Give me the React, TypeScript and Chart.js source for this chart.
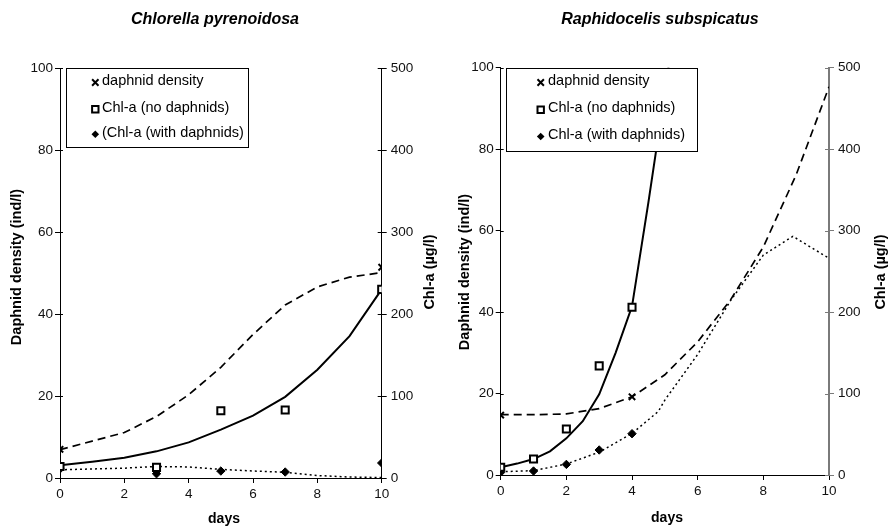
import React, { useEffect, useRef } from 'react';
import { Chart, registerables } from 'chart.js';

Chart.register(...registerables);

const FONT = "'Liberation Sans', Arial, Helvetica, sans-serif";

// ---------- Left panel: Chlorella pyrenoidosa ----------
const leftTitle = 'Chlorella pyrenoidosa';
const leftLegend = ['daphnid density', 'Chl-a (no daphnids)', '(Chl-a (with daphnids)'];
const leftDaphModelDays = [0, 1, 2, 3, 4, 5, 6, 7, 8, 9, 10];
const leftDaphModel = [6.9, 9.0, 11.1, 15.0, 20.3, 27.0, 35.0, 42.2, 46.6, 49.0, 50.1];
const leftChlNoModelDays = [0, 1, 2, 3, 4, 5, 6, 7, 8, 9, 10];
const leftChlNoModel = [15.4, 19.8, 24.6, 32.5, 43.4, 59, 76, 99, 132, 173, 230];
const leftChlWithModelDays = [0, 1, 2, 3, 4, 5, 6, 7, 8, 9, 10];
const leftChlWithModel = [10, 11, 12, 14, 13.5, 10.5, 8.5, 7, 3, 1.2, 0.5];
const leftDaphObsDays = [0, 10];
const leftDaphObs = [7.0, 51.4];
const leftChlObsDays = [0, 3, 5, 7, 10];
const leftChlNoObs = [14, 13, 82, 83, 230];
const leftChlWithObs = [11, 5.2, 8.5, 7.3, 18.3];

// ---------- Right panel: Raphidocelis subspicatus ----------
const rightTitle = 'Raphidocelis subspicatus';
const rightLegend = ['daphnid density', 'Chl-a (no daphnids)', 'Chl-a (with daphnids)'];
const rightDaphModelDays = [0, 1, 2, 3, 4, 5, 6, 7, 8, 9, 10];
const rightDaphModel = [14.8, 14.8, 15.0, 16.3, 19.2, 24.6, 32.7, 43, 56, 73.7, 95.3];
const rightChlNoModelDays = [0, 0.5, 1, 1.5, 2, 2.5, 3, 3.5, 4, 4.5, 5, 5.5];
const rightChlNoModel = [9.5, 14, 19.6, 29, 45, 66, 99, 150, 207, 335, 470, 610];
const rightChlWithModelDays = [0, 1, 2, 3, 4, 4.8, 5, 6, 7, 8, 8.9, 10];
const rightChlWithModel = [4, 5.3, 13.5, 28, 51, 78, 92, 148, 214, 270, 293, 266];
const rightDaphObsDays = [0, 4];
const rightDaphObs = [14.7, 19.2];
const rightChlObsDays = [0, 1, 2, 3, 4];
const rightChlNoObs = [9.5, 19.6, 56.5, 134, 206];
const rightChlWithObs = [3.3, 4.9, 13, 30.7, 50.7];

// ---------- axis labels ----------
const xTitle = 'days';
const yTitle = 'Daphnid density (ind/l)';
const y2Title = 'Chl-a (µg/l)';
const xStep = 2;
const yStep = 20;
const y2Step = 100;

type Layout = {
  top: number;
  leftW: number;
  rightW: number;
  bottomH: number;
  titleX: number;
  yTitleX: number;
  yTitleY: number;
  y2TitleX: number;
  y2TitleY: number;
  xTitleX: number;
  xTitleY: number;
  legendBox: [number, number, number, number];
  legendRows: number[];
  legendMarkerX: number;
  legendTextX: number;
  rightAxisColor: string;
  rightAxisWidth: number;
};

type PanelProps = {
  title: string;
  legend: string[];
  daphModelDays: number[];
  daphModel: number[];
  chlNoModelDays: number[];
  chlNoModel: number[];
  chlWithModelDays: number[];
  chlWithModel: number[];
  daphObsDays: number[];
  daphObs: number[];
  chlObsDays: number[];
  chlNoObs: number[];
  chlWithObs: number[];
  layout: Layout;
};

const toXY = (xs: number[], ys: number[]) => xs.map((x, i) => ({ x, y: ys[i] }));

function drawMarker(ctx: CanvasRenderingContext2D, kind: number, x: number, y: number) {
  ctx.save();
  ctx.strokeStyle = '#000';
  ctx.fillStyle = '#000';
  if (kind === 0) {
    ctx.lineWidth = 2;
    const s = 3.2;
    ctx.beginPath();
    ctx.moveTo(x - s, y - s);
    ctx.lineTo(x + s, y + s);
    ctx.moveTo(x + s, y - s);
    ctx.lineTo(x - s, y + s);
    ctx.stroke();
  } else if (kind === 1) {
    ctx.lineWidth = 2;
    ctx.fillStyle = '#fff';
    ctx.beginPath();
    ctx.rect(x - 3.2, y - 3.2, 6.4, 6.4);
    ctx.fill();
    ctx.stroke();
  } else {
    const s = 3.8;
    ctx.beginPath();
    ctx.moveTo(x, y - s);
    ctx.lineTo(x + s, y);
    ctx.lineTo(x, y + s);
    ctx.lineTo(x - s, y);
    ctx.closePath();
    ctx.fill();
  }
  ctx.restore();
}

function Panel(p: PanelProps) {
  const ref = useRef<HTMLCanvasElement>(null);
  useEffect(() => {
    const L = p.layout;
    const overlay = {
      id: 'overlay',
      afterDraw(chart: any) {
        const ctx: CanvasRenderingContext2D = chart.ctx;
        const area = chart.chartArea;
        const ys = chart.scales.y;
        const y2s = chart.scales.y2;
        ctx.save();
        // inner tick marks (crossing the axes)
        ctx.strokeStyle = '#000';
        ctx.lineWidth = 1;
        ys.ticks.forEach((t: any) => {
          const py = Math.round(ys.getPixelForValue(t.value)) + 0.5;
          ctx.beginPath();
          ctx.moveTo(area.left, py);
          ctx.lineTo(area.left + 3, py);
          ctx.stroke();
        });
        ctx.strokeStyle = L.rightAxisColor;
        y2s.ticks.forEach((t: any) => {
          const py = Math.round(y2s.getPixelForValue(t.value)) + 0.5;
          ctx.beginPath();
          ctx.moveTo(area.right - 4, py);
          ctx.lineTo(area.right, py);
          ctx.stroke();
        });
        // title
        ctx.fillStyle = '#000';
        ctx.font = `italic bold 16px ${FONT}`;
        ctx.textAlign = 'center';
        ctx.textBaseline = 'middle';
        ctx.fillText(p.title, L.titleX, 20);
        // axis titles
        ctx.font = `bold 14px ${FONT}`;
        ctx.fillText(xTitle, L.xTitleX, L.xTitleY);
        ctx.font = `bold 14.5px ${FONT}`;
        ctx.save();
        ctx.translate(L.yTitleX, L.yTitleY);
        ctx.rotate(-Math.PI / 2);
        ctx.fillText(yTitle, 0, 0);
        ctx.restore();
        ctx.save();
        ctx.translate(L.y2TitleX, L.y2TitleY);
        ctx.rotate(-Math.PI / 2);
        ctx.fillText(y2Title, 0, 0);
        ctx.restore();
        // legend box
        const [bx, by, bw, bh] = L.legendBox;
        ctx.fillStyle = '#fff';
        ctx.fillRect(bx, by, bw, bh);
        ctx.strokeStyle = '#000';
        ctx.lineWidth = 1;
        ctx.strokeRect(Math.round(bx) + 0.5, Math.round(by) + 0.5, Math.round(bw), Math.round(bh));
        ctx.font = `14.5px ${FONT}`;
        ctx.textAlign = 'left';
        p.legend.forEach((label, i) => {
          const ry = L.legendRows[i];
          drawMarker(ctx, i, L.legendMarkerX, ry + 1.5);
          ctx.fillStyle = '#000';
          ctx.fillText(label, L.legendTextX, ry);
        });
        ctx.restore();
      },
    };

    const tickFont = { family: FONT, size: 13.5 };
    const chart = new Chart(ref.current as HTMLCanvasElement, {
      type: 'line',
      data: {
        datasets: [
          {
            label: p.legend[0] + ' (model)',
            data: toXY(p.daphModelDays, p.daphModel),
            yAxisID: 'y',
            borderColor: '#000',
            borderWidth: 1.7,
            borderDash: [8, 5],
            pointRadius: 0,
            tension: 0,
            fill: false,
            order: 2,
          },
          {
            label: p.legend[1] + ' (model)',
            data: toXY(p.chlNoModelDays, p.chlNoModel),
            yAxisID: 'y2',
            borderColor: '#000',
            borderWidth: 2,
            pointRadius: 0,
            tension: 0,
            fill: false,
            order: 2,
          },
          {
            label: p.legend[2] + ' (model)',
            data: toXY(p.chlWithModelDays, p.chlWithModel),
            yAxisID: 'y2',
            borderColor: '#000',
            borderWidth: 1.5,
            borderDash: [2, 3],
            pointRadius: 0,
            tension: 0,
            fill: false,
            order: 2,
          },
          {
            label: p.legend[0],
            data: toXY(p.daphObsDays, p.daphObs),
            yAxisID: 'y',
            showLine: false,
            pointStyle: 'crossRot',
            pointRadius: 4.5,
            pointBorderWidth: 2,
            pointBorderColor: '#000',
            pointBackgroundColor: '#000',
            order: 0,
          },
          {
            label: p.legend[1],
            data: toXY(p.chlObsDays, p.chlNoObs),
            yAxisID: 'y2',
            showLine: false,
            pointStyle: 'rect',
            pointRadius: 5,
            pointBorderWidth: 2,
            pointBorderColor: '#000',
            pointBackgroundColor: '#fff',
            order: 0,
          },
          {
            label: p.legend[2],
            data: toXY(p.chlObsDays, p.chlWithObs),
            yAxisID: 'y2',
            showLine: false,
            pointStyle: 'rectRot',
            pointRadius: 4.2,
            pointBorderWidth: 1,
            pointBorderColor: '#000',
            pointBackgroundColor: '#000',
            order: 0,
          },
        ] as any,
      },
      options: {
        responsive: false,
        animation: false,
        layout: { padding: { top: L.top, left: 0, right: 0, bottom: 0 } },
        plugins: {
          legend: { display: false },
          tooltip: { enabled: false },
          title: { display: false },
        },
        scales: {
          x: {
            type: 'linear',
            min: 0,
            max: 10,
            ticks: { stepSize: xStep, color: '#111', font: tickFont, padding: 3 },
            grid: { drawOnChartArea: false, tickLength: 5, tickColor: '#000' },
            border: { color: '#000', width: 1 },
            afterFit: (s: any) => {
              s.height = L.bottomH;
            },
          },
          y: {
            type: 'linear',
            position: 'left',
            min: 0,
            max: 100,
            ticks: { stepSize: yStep, color: '#111', font: tickFont, padding: 2 },
            grid: { drawOnChartArea: false, tickLength: 5, tickColor: '#000' },
            border: { color: '#000', width: 1 },
            afterFit: (s: any) => {
              s.width = L.leftW;
            },
          },
          y2: {
            type: 'linear',
            position: 'right',
            min: 0,
            max: 500,
            ticks: { stepSize: y2Step, color: '#111', font: tickFont, padding: 4 },
            grid: { drawOnChartArea: false, tickLength: 5, tickColor: L.rightAxisColor },
            border: { color: L.rightAxisColor, width: L.rightAxisWidth },
            afterFit: (s: any) => {
              s.width = L.rightW;
            },
          },
        },
      } as any,
      plugins: [overlay],
    });
    return () => chart.destroy();
  }, []);
  return <canvas ref={ref} width={444} height={526} style={{ display: 'block', width: 444, height: 526 }} />;
}

const leftLayout: Layout = {
  top: 68,
  leftW: 60,
  rightW: 62.3,
  bottomH: 48,
  titleX: 215,
  yTitleX: 17,
  yTitleY: 267,
  y2TitleX: 430,
  y2TitleY: 272,
  xTitleX: 224,
  xTitleY: 519,
  legendBox: [66, 68, 182, 79],
  legendRows: [81, 107.7, 132.7],
  legendMarkerX: 95.3,
  legendTextX: 102,
  rightAxisColor: '#000',
  rightAxisWidth: 1,
};

const rightLayout: Layout = {
  top: 67.7,
  leftW: 56.7,
  rightW: 59,
  bottomH: 51,
  titleX: 216,
  yTitleX: 21,
  yTitleY: 272,
  y2TitleX: 437,
  y2TitleY: 272,
  xTitleX: 223,
  xTitleY: 518,
  legendBox: [61.7, 68, 190.6, 83],
  legendRows: [81, 108.3, 135],
  legendMarkerX: 96.7,
  legendTextX: 104,
  rightAxisColor: '#7a7a7a',
  rightAxisWidth: 2,
};

export default function App() {
  return (
    <div style={{ position: 'absolute', left: 0, top: 0, width: 888, height: 526, background: '#fff', display: 'flex' }}>
      <Panel
        title={leftTitle}
        legend={leftLegend}
        daphModelDays={leftDaphModelDays}
        daphModel={leftDaphModel}
        chlNoModelDays={leftChlNoModelDays}
        chlNoModel={leftChlNoModel}
        chlWithModelDays={leftChlWithModelDays}
        chlWithModel={leftChlWithModel}
        daphObsDays={leftDaphObsDays}
        daphObs={leftDaphObs}
        chlObsDays={leftChlObsDays}
        chlNoObs={leftChlNoObs}
        chlWithObs={leftChlWithObs}
        layout={leftLayout}
      />
      <Panel
        title={rightTitle}
        legend={rightLegend}
        daphModelDays={rightDaphModelDays}
        daphModel={rightDaphModel}
        chlNoModelDays={rightChlNoModelDays}
        chlNoModel={rightChlNoModel}
        chlWithModelDays={rightChlWithModelDays}
        chlWithModel={rightChlWithModel}
        daphObsDays={rightDaphObsDays}
        daphObs={rightDaphObs}
        chlObsDays={rightChlObsDays}
        chlNoObs={rightChlNoObs}
        chlWithObs={rightChlWithObs}
        layout={rightLayout}
      />
    </div>
  );
}
